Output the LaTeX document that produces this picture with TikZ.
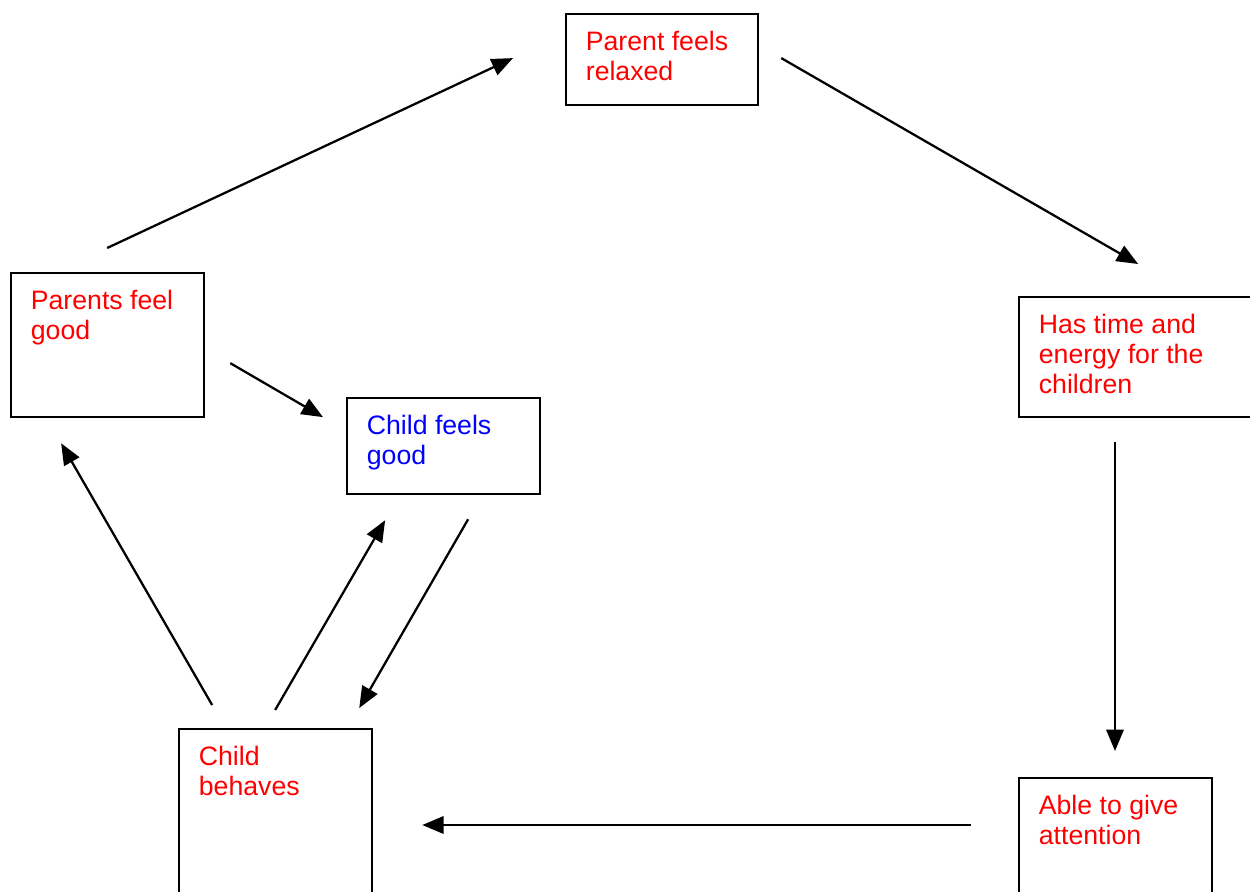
\documentclass[tikz,border=0pt]{standalone}
\usepackage{fontspec}
\setmainfont{Liberation Sans}
\usetikzlibrary{arrows.meta}
\tikzset{every picture/.style={line width=1.7pt}}
\tikzset{
  box/.style={draw, anchor=north west, inner xsep=14.8pt, inner ysep=11.6pt, text=red, font=\fontsize{20}{22.5}\selectfont},
  arr/.style={-{Triangle[length=16pt,width=13pt]}},
}
% text block pinned to the top left of a box
\newcommand{\boxtext}[3]{\parbox[t][#2][t]{#1}{\raggedright\strut#3}}

\begin{document}
\begin{tikzpicture}[x=0.75pt,y=0.75pt,yscale=-1,xscale=1]
\useasboundingbox (0,0) rectangle (1250,892);
\clip (0,0) rectangle (1250,892);

% Boxes
\node (relaxed) [box] at (565,13) {\boxtext{114.4pt}{45pt}{Parent feels\\relaxed}};
\node (pgood) [box] at (10,272) {\boxtext{115.15pt}{84.8pt}{Parents feel\\good}};
\node (cgood) [box, text=blue] at (346,397) {\boxtext{115.15pt}{48.8pt}{Child feels\\good}};
\node (time) [box] at (1018,296) {\boxtext{151.9pt}{66.8pt}{Has time and\\energy for the\\children}};
\node (behaves) [box] at (178,728) {\boxtext{115.15pt}{126.8pt}{Child\\behaves}};
\node (attn) [box] at (1018,777) {\boxtext{115.15pt}{89.3pt}{Able to give\\attention}};

% Arrows
\draw [arr] ([shift={(-0.5,-24)}]pgood.north) -- ([shift={(-52,-1.5)}]relaxed.west);
\draw [arr] ([shift={(22,-1.5)}]relaxed.east) -- ([shift={(-2,-32)}]time.north);
\draw [arr] ([shift={(97,24)}]time.south west) -- ([shift={(97,-26)}]attn.north west);
\draw [arr] ([shift={(-47,48)}]attn.north west) -- ([shift={(49,97)}]behaves.north east);
\draw [arr] ([shift={(-63.5,-23)}]behaves.north) -- ([shift={(-46.5,25)}]pgood.south);
\draw [arr] ([shift={(-0.5,-18)}]behaves.north) -- ([shift={(-58.5,25)}]cgood.south);
\draw [arr] ([shift={(24.5,24)}]cgood.south) -- ([shift={(-14,-20)}]behaves.north east);
\draw [arr] ([shift={(25,18)}]pgood.east) -- ([shift={(-23,-29)}]cgood.west);

\end{tikzpicture}
\end{document}
